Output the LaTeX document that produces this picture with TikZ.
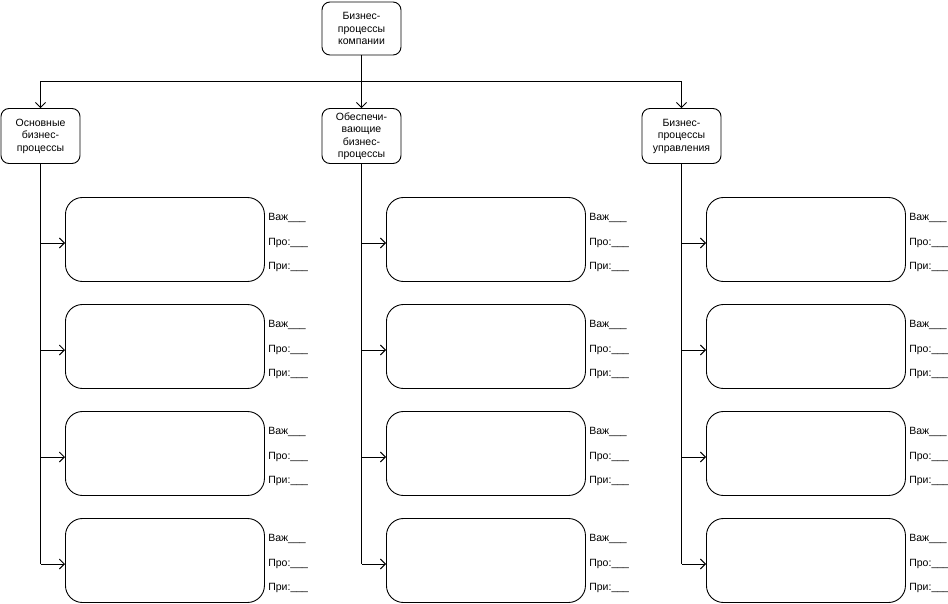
\documentclass[tikz,border=0pt]{standalone}
\usepackage{fontspec}
\setmainfont{Liberation Sans}
\usepackage{tikz}
\usetikzlibrary{arrows.meta}

\begin{document}
\begin{tikzpicture}[x=1pt, y=-1pt, >={Straight Barb[length=5pt, width=10pt]}, line width=0.9pt,
	font=\fontsize{10.5}{12.5}\selectfont,
	proc/.style={draw, rounded corners=8pt, minimum width=79pt, minimum height=55pt, align=center, inner sep=1pt},
	task/.style={draw, rounded corners=17pt, minimum width=199pt, minimum height=84pt, anchor=west},
	tag/.style={anchor=base west, inner sep=0pt}]
		\useasboundingbox (0,0) rectangle (948,604);
		\node[proc, minimum height=53pt] (top) at (361.5,28.5) {Бизнес-\\процессы\\компании};
		\coordinate (bus) at (361.5,81.5);
		\coordinate (busL) at (40.5,81.5);
		\coordinate (busR) at (681.5,81.5);
		\node[proc] (main) at (40.5,136) {Основные\\бизнес-\\процессы};
		\node[proc] (supp) at (361.5,136) {Обеспечи-\\вающие\\бизнес-\\процессы};
		\node[proc] (mgmt) at (681.5,136) {Бизнес-\\процессы\\управления};
		\draw (top) -- (bus);
		\draw (busL) -- (busR);
		\draw[->] (busL) -- (main);
		\draw[->] (bus) -- (supp);
		\draw[->] (busR) -- (mgmt);
		\foreach \col/\x in {main/40.5, supp/361.5, mgmt/681.5} {
			\foreach \i/\y in {1/239.5, 2/346.5, 3/453.5, 4/560.5} {
				\node[task] (\col-\i) at (\x+24.5,\y) {};
				\coordinate (\col-j\i) at (\x,\y+3.5);
				\draw[->] (\col-j\i) -- (\col-j\i -| \col-\i.west);
				\node[tag] (\col-v\i) at ([xshift=3pt, yshift=19pt]\col-\i.east) {Важ\_\_\_};
				\node[tag] (\col-p\i) at ([xshift=3pt, yshift=-6pt]\col-\i.east) {Про:\_\_\_};
				\node[tag] (\col-r\i) at ([xshift=3pt, yshift=-30pt]\col-\i.east) {При:\_\_\_};
			}
			\draw (\col) -- (\col-j4);
		}
\end{tikzpicture}
\end{document}
